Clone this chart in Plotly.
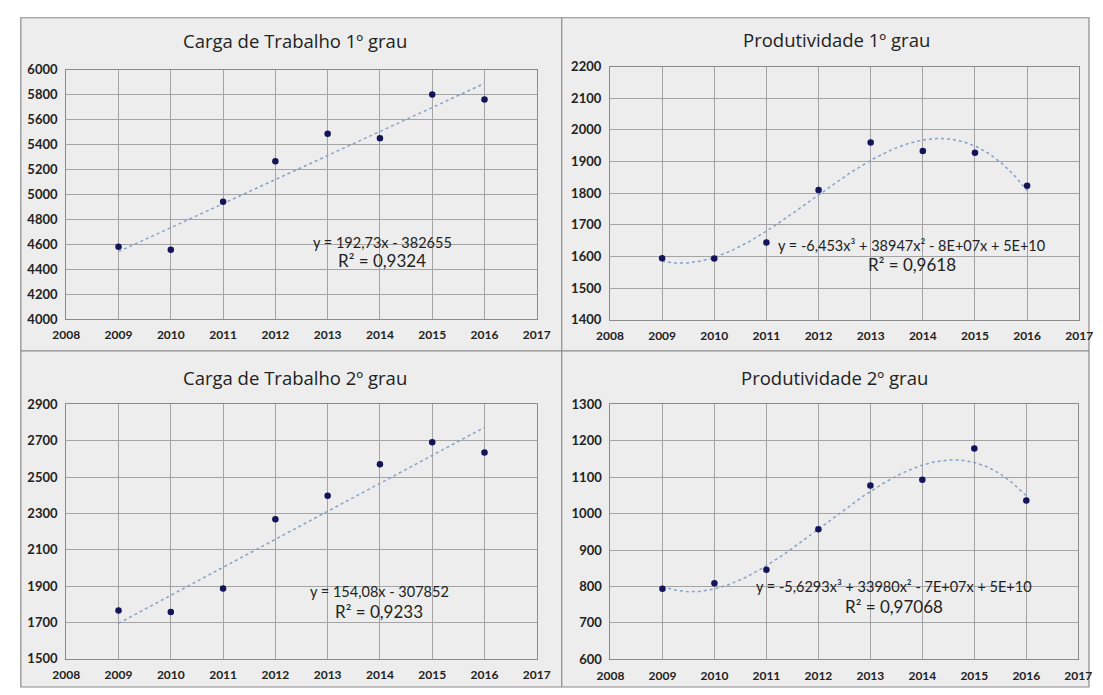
import numpy as np
import plotly.graph_objects as go

# ---- data ----
years = [2009, 2010, 2011, 2012, 2013, 2014, 2015, 2016]
carga_1 = [4580, 4555, 4940, 5265, 5485, 5450, 5800, 5760]
produt_1 = [1594, 1593, 1644, 1810, 1960, 1933, 1928, 1823]
carga_2 = [1765, 1757, 1886, 2268, 2397, 2570, 2692, 2635]
produt_2 = [794, 809, 846, 957, 1077, 1093, 1179, 1036]

titles = ["Carga de Trabalho 1º grau", "Produtividade 1º grau",
          "Carga de Trabalho 2º grau", "Produtividade 2º grau"]

# linear trend coefficients (slope, intercept) as printed on the charts
lin_1 = (192.73, -382655)
lin_2 = (154.08, -307852)

eq_text = ["y = 192,73x - 382655",
           "y = -6,453x³ + 38947x² - 8E+07x + 5E+10",
           "y = 154,08x - 307852",
           "y = -5,6293x³ + 33980x² - 7E+07x + 5E+10"]
r2_text = ["R² = 0,9324", "R² = 0,9618", "R² = 0,9233", "R² = 0,97068"]

y_ranges = [(4000, 6000, 200), (1400, 2200, 100), (1500, 2900, 200), (600, 1300, 100)]
x_range = (2008, 2017)

# ---- layout helpers (pixel -> paper) ----
W, H = 1103, 695


def px(x):
    return x / W


def py(y):
    return 1 - y / H


# plot areas in pixels: (left, right, top, bottom)
areas = [(53.6, 536.4, 63, 318.3),
         (611.5, 1093, 60, 319),
         (53.6, 536.4, 405.7, 666),
         (612, 1092, 405.7, 666.7)]
title_pos = [(288, 33), (844, 32), (288, 378), (842, 378)]
eq_pos = [(378, 240), (921, 243), (375, 597), (903, 592)]
r2_pos = [(378, 258), (921, 263), (375, 618), (903, 613)]

TEXT = "#222222"
GRID = "#a4a4a4"
FRAME = "#8a8a8a"
BG = "#ededed"
DOT = "#14145a"
TREND = "#86a2c8"
FONT = "Lato, Open Sans, sans-serif"
TITLE_FONT = "Open Sans, Lato, sans-serif"

fig = go.Figure()

series = [carga_1, produt_1, carga_2, produt_2]
xs = np.array(years, dtype=float)
dense = np.linspace(min(years), max(years), 200)

for i, vals in enumerate(series):
    ax = "" if i == 0 else str(i + 1)
    xref, yref = "x" + ax, "y" + ax

    # trendline
    if i in (0, 2):
        slope, icpt = lin_1 if i == 0 else lin_2
        tx = np.array([min(years), max(years)], dtype=float)
        ty = slope * tx + icpt
    else:
        c = np.polyfit(xs - 2012.5, np.array(vals, dtype=float), 3)
        tx = dense
        ty = np.polyval(c, dense - 2012.5)
    fig.add_trace(go.Scatter(x=tx, y=ty, mode="lines", xaxis=xref, yaxis=yref,
                             line=dict(color=TREND, width=1.5, dash="dot"),
                             hoverinfo="skip", showlegend=False))
    # data points
    fig.add_trace(go.Scatter(x=years, y=vals, mode="markers", xaxis=xref, yaxis=yref,
                             marker=dict(color=DOT, size=6.5),
                             showlegend=False))

    l, r, t, b = areas[i]
    lo, hi, step = y_ranges[i]
    xa = dict(domain=[px(l), px(r)], range=list(x_range), dtick=1, tick0=2008,
              showgrid=True, gridcolor=GRID, gridwidth=1,
              showline=True, linecolor=FRAME, linewidth=1.2, mirror=True,
              zeroline=False, ticks="outside", ticklen=5, tickcolor="rgba(0,0,0,0)",
              tickfont=dict(family=FONT, size=12, color=TEXT, weight="bold"),
              anchor=yref, fixedrange=True)
    ya = dict(domain=[py(b), py(t)], range=[lo, hi], dtick=step, tick0=lo,
              showgrid=True, gridcolor=GRID, gridwidth=1,
              showline=True, linecolor=FRAME, linewidth=1.2, mirror=True,
              zeroline=False, ticks="outside", ticklen=5, tickcolor="rgba(0,0,0,0)",
              tickfont=dict(family=FONT, size=13, color=TEXT, weight="bold"),
              anchor=xref, fixedrange=True)
    fig.layout["xaxis" + ax] = xa
    fig.layout["yaxis" + ax] = ya

    tx_, ty_ = title_pos[i]
    fig.add_annotation(x=px(tx_), y=py(ty_), xref="paper", yref="paper",
                       text=titles[i], showarrow=False, xanchor="center", yanchor="middle",
                       font=dict(family=TITLE_FONT, size=18.5, color=TEXT))
    ex, ey = eq_pos[i]
    fig.add_annotation(x=px(ex), y=py(ey), xref="paper", yref="paper",
                       text=eq_text[i], showarrow=False, xanchor="center", yanchor="middle",
                       font=dict(family=FONT, size=14.5, color=TEXT))
    rx, ry = r2_pos[i]
    fig.add_annotation(x=px(rx), y=py(ry), xref="paper", yref="paper",
                       text=r2_text[i], showarrow=False, xanchor="center", yanchor="middle",
                       font=dict(family=FONT, size=17, color=TEXT))

# chart-area background and panel frames
fig.add_shape(type="rect", xref="paper", yref="paper", layer="below",
              x0=px(7), x1=1, y0=0, y1=py(10),
              fillcolor=BG, line=dict(color=FRAME, width=1.2))
fig.add_shape(type="line", xref="paper", yref="paper",
              x0=px(562), x1=px(562), y0=0, y1=py(10),
              line=dict(color=FRAME, width=1.2))
fig.add_shape(type="line", xref="paper", yref="paper",
              x0=px(7), x1=1, y0=py(351), y1=py(351),
              line=dict(color=FRAME, width=1.2))

fig.update_layout(width=W, height=H, margin=dict(l=0, r=0, t=0, b=0),
                  paper_bgcolor="white", plot_bgcolor=BG,
                  font=dict(family=FONT, color=TEXT), showlegend=False)

fig.write_html("out.html")
